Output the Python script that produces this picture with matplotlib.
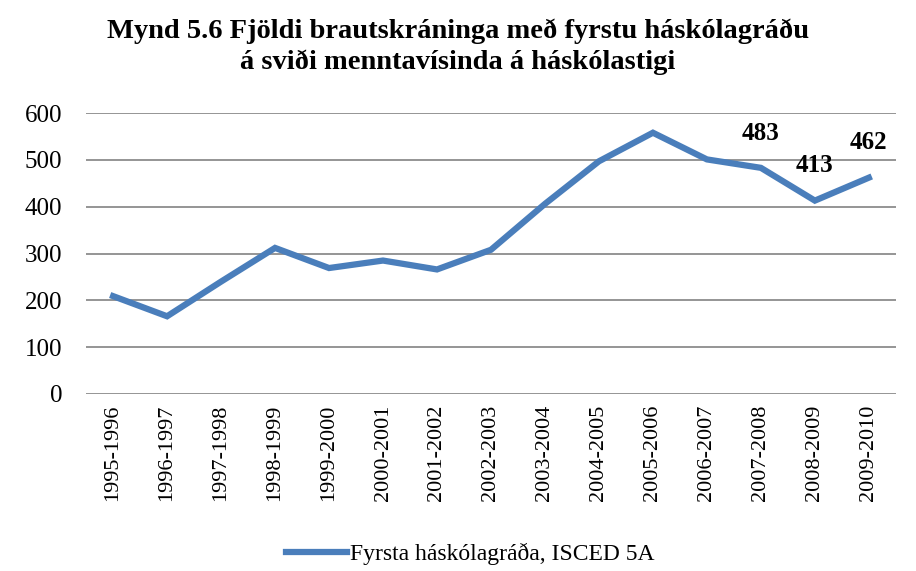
import numpy as np
import matplotlib.pyplot as plt

years = ['1995-1996', '1996-1997', '1997-1998', '1998-1999', '1999-2000',
         '2000-2001', '2001-2002', '2002-2003', '2003-2004', '2004-2005',
         '2005-2006', '2006-2007', '2007-2008', '2008-2009', '2009-2010']
graduates = [209, 166, 240, 312, 269, 285, 266, 308, 406, 497, 558, 501, 483, 413, 462]
labelled = [12, 13, 14]

plt.rcParams['font.family'] = ['Liberation Serif', 'DejaVu Serif']

fig = plt.figure(figsize=(9.16, 5.71), dpi=100)
ax = fig.add_axes([0.094, 0.310, 0.884, 0.492])

x = np.arange(len(years))
line, = ax.plot(x, graduates, color='#4a7ebb', linewidth=4.5, solid_joinstyle='miter')
for i in labelled:
    ax.annotate(str(graduates[i]), (x[i], graduates[i]), xytext=(0, 25),
                textcoords='offset points', ha='center', va='center',
                fontsize=18, fontweight='bold')

ax.set_xlim(-0.5, len(years) - 0.5)
ax.set_ylim(0, 600)
ax.set_yticks(range(0, 601, 100))
ax.set_xticks(x)
ax.set_xticklabels(years, rotation=90, fontsize=16)
ax.tick_params(axis='y', labelsize=18, length=0, pad=17)
ax.tick_params(axis='x', length=0, pad=8)
ax.grid(True, axis='y', color='#8c8c8c', linewidth=1.3)
ax.set_axisbelow(True)
for s in ax.spines.values():
    s.set_visible(False)

fig.suptitle('Mynd 5.6 Fjöldi brautskráninga með fyrstu háskólagráðu\ná sviði menntavísinda á háskólastigi',
             y=0.968, fontsize=20.5, fontweight='bold', linespacing=1.3)

fig.legend([line], ['Fyrsta háskólagráða, ISCED 5A'], loc='center', bbox_to_anchor=(0.513, 0.03),
           frameon=False, fontsize=17, handlelength=2.6, handletextpad=0.1)

fig.savefig('out.png', dpi=100, facecolor='white')
